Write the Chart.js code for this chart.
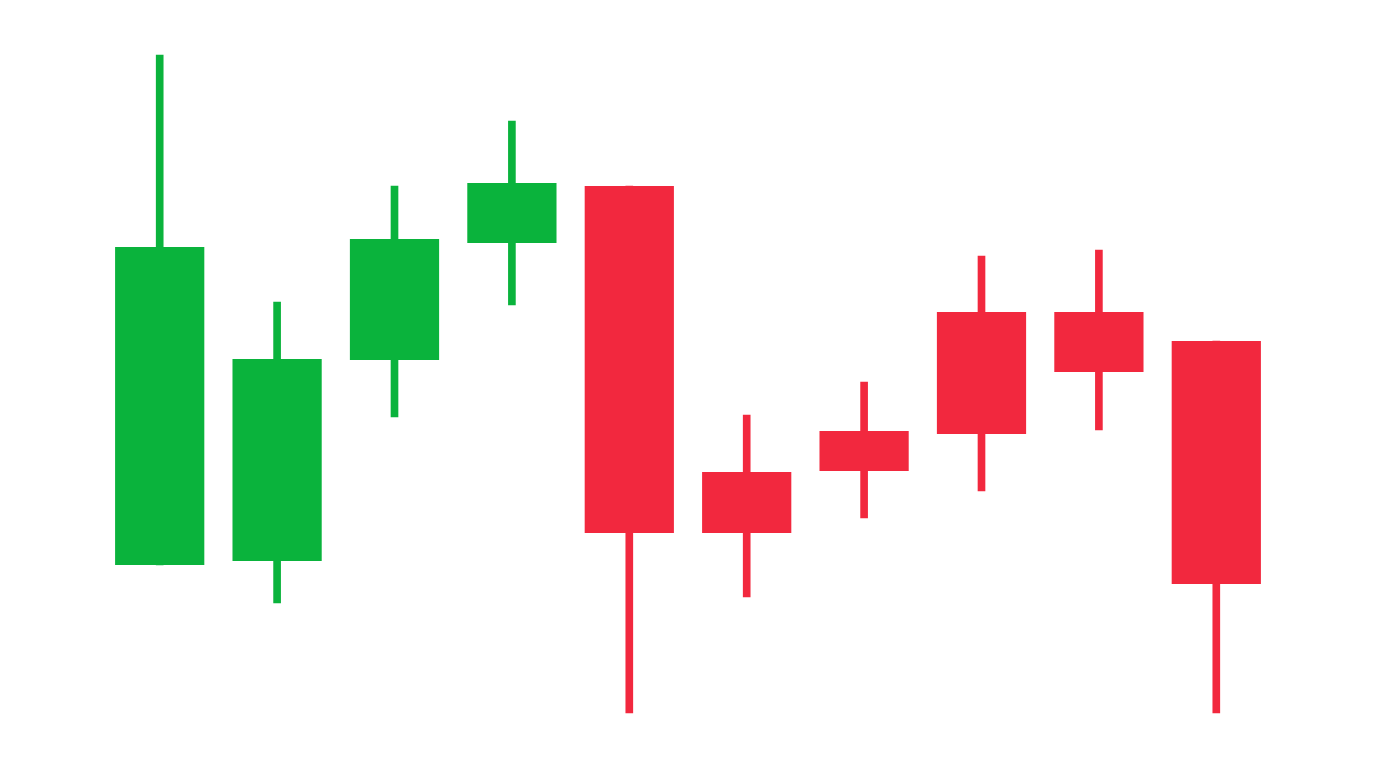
<!DOCTYPE html>
<html>
<head>
<meta charset="utf-8">
<script src="https://cdn.jsdelivr.net/npm/chart.js@4"></script>
<style>
  html, body { margin: 0; padding: 0; background: #ffffff; }
  #box { width: 1376px; height: 768px; }
</style>
</head>
<body>
<div id="box"><canvas id="grafico"></canvas></div>
<script>
// dados das velas (open, close, high, low)
let dias = ['1', '2', '3', '4', '5', '6', '7', '8', '9', '10'];
let abertura = [20.3, 20.7, 40.8, 52.5, 58.2, 29.6, 33.7, 45.6, 45.6, 42.7];
let fechamento = [52.1, 40.9, 52.9, 58.5, 23.5, 23.5, 29.7, 33.4, 39.6, 18.4];
let maxima = [71.3, 46.6, 58.2, 64.7, 58.2, 35.3, 38.6, 51.2, 51.8, 42.7];
let minima = [20.3, 16.5, 35.1, 46.3, 5.5, 17.1, 25.0, 27.7, 33.8, 5.5];

let verde = '#0ab33c';
let vermelho = '#f2283e';

let corpos = [];
let pavios = [];
let cores = [];
for (let i = 0; i < dias.length; i++) {
    corpos.push([abertura[i], fechamento[i]]);
    pavios.push([minima[i], maxima[i]]);
    cores.push(fechamento[i] >= abertura[i] ? verde : vermelho);
}

let ctx = document.getElementById('grafico').getContext('2d');
new Chart(ctx, {
    type: 'bar',
    data: {
        labels: dias,
        datasets: [
            {
                label: 'corpo',
                data: corpos,
                backgroundColor: cores,
                borderWidth: 0,
                borderSkipped: false,
                barPercentage: 0.76,
                categoryPercentage: 1,
                grouped: false,
                order: 1
            },
            {
                label: 'pavio',
                data: pavios,
                backgroundColor: cores,
                borderWidth: 0,
                borderSkipped: false,
                barThickness: 7,
                grouped: false,
                order: 2
            }
        ]
    },
    options: {
        responsive: true,
        maintainAspectRatio: false,
        animation: false,
        layout: { padding: { left: 101, right: 101, top: 0, bottom: 0 } },
        plugins: {
            legend: { display: false },
            tooltip: { enabled: false }
        },
        scales: {
            x: { display: false },
            y: { display: false, min: 0, max: 76.8 }
        }
    }
});
</script>
</body>
</html>
